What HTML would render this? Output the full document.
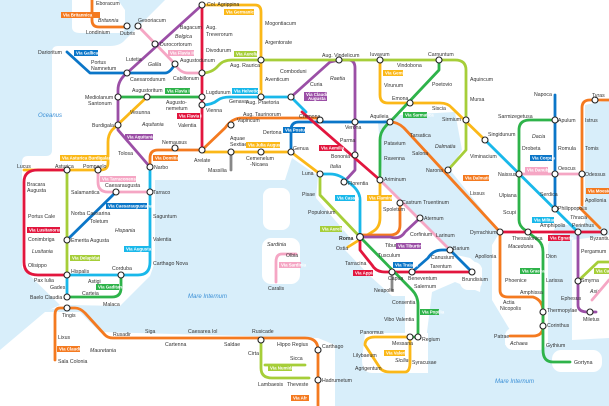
<!DOCTYPE html>
<html><head><meta charset="utf-8"><style>
html,body{margin:0;padding:0;background:#fff}
svg{display:block}
text{font-family:"Liberation Sans",sans-serif;font-size:5.2px;fill:#333}
.r{font-size:4.4px;fill:#fff;font-weight:bold}
.sea{fill:#3a8fd6;font-style:italic;font-size:6px}
.reg{fill:#aaa;font-style:italic;font-size:6px}
.l{fill:none;stroke-width:2.8;stroke-linecap:round;stroke-linejoin:round}
.i{fill:#fff;stroke:#222;stroke-width:1.1}
</style></head><body>
<svg width="609" height="406" viewBox="0 0 609 406" xmlns="http://www.w3.org/2000/svg">
<rect width="609" height="406" fill="#fff"/>
<g fill="#d8eefa">
<path d="M0,0 H72 V27 Q72,33 80,33 H118 Q125,33 125,26 V10 L118,0 H165 L125,40 Q120,46 110,46 H58 Q52,46 52,52 V150 Q52,156 46,156 H28 Q22,156 22,162 V268 L60,305 L45,312 L0,350 Z"/>
<path d="M155,180 H285 L292,158 L318,176 L316,198 L352,240 L345,250 L370,276 L392,296 L405,296 L405,345 L425,348 L432,292 L455,282 L480,292 L482,268 L470,258 L452,254 L383,184 L378,122 L400,115 L455,112 L462,150 L450,170 L500,232 L492,245 L492,300 L510,330 L505,345 L548,345 L548,245 L556,225 L585,225 L585,105 L609,100 V406 H335 V345 L318,338 L100,332 L80,312 L40,312 L70,305 L120,306 L150,276 L155,262 Z"/>
<path d="M572,240 L609,235 V338 L572,340 Z" fill="#fff"/>
<rect x="263" y="188" width="27" height="42" rx="8" fill="#fff"/>
<rect x="262" y="238" width="38" height="46" rx="9" fill="#fff"/>
<path d="M365,333 H428 V373 H372 Q362,373 362,360 Z" fill="#fff"/>
<rect x="505" y="328" width="42" height="22" rx="8" fill="#fff"/>
<rect x="552" y="350" width="50" height="22" rx="9" fill="#fff"/>
<rect x="460" y="262" width="22" height="28" rx="8" fill="#fff"/>
</g>
<text class="sea" x="38" y="117">Oceanus</text>
<text class="sea" x="188" y="298">Mare Internum</text>
<text class="sea" x="495" y="383">Mare Internum</text>
<g class="reg">
<text x="98" y="22">Britannia</text><text x="175" y="38">Belgica</text><text x="148" y="66">Gallia</text>
<text x="142" y="126">Aquitania</text><text x="115" y="232">Hispania</text><text x="32" y="253">Lusitania</text>
<text x="90" y="352">Mauretania</text><text x="330" y="80">Raetia</text><text x="330" y="168">Italia</text>
<text x="435" y="148">Dalmatia</text><text x="532" y="138">Dacia</text><text x="508" y="248">Macedonia</text>
<text x="510" y="345">Achaea</text><text x="590" y="293">Asia</text><text x="570" y="219">Thracia</text>
<text x="395" y="362">Sicilia</text><text x="267" y="246">Sardinia</text>
</g>
<g class="l">
<path stroke="#f47a20" d="M92,0 V20 Q92,27 99,27 H127"/>
<path stroke="#f5a6c4" d="M138,26 L175,64 Q180,73 188,73 H202"/>
<path stroke="#9b4fa6" d="M202,5 L127,73 Q118,80 118,90 V130 L150,167"/>
<path stroke="#9b4fa6" d="M291,97 L330,62 L339,60 H348 Q355,60 355,68 V170 L344,182"/>
<path stroke="#fbb818" d="M202,5 H255 Q261,5 261,12 V97"/>
<path stroke="#a6ce39" d="M202,73 Q212,73 218,66 Q223,60 232,60 H455 Q466,60 466,70 V150 L448,170"/>
<path stroke="#0b76c8" d="M67,52 L90,73 H165 Q170,73 175,64"/>
<path stroke="#2eb34a" d="M118,97 H202"/>
<path stroke="#fbb818" d="M147,97 L112,130 Q108,135 108,142 V163 Q108,170 100,170 H24"/>
<path stroke="#19b8ea" d="M202,105 Q212,105 218,100 Q222,97 230,97 H291 L306,112"/>
<path stroke="#f47a20" d="M150,167 V158 Q150,150 158,150 H202 L225,128 Q232,118 242,118 H318"/>
<path stroke="#fbb818" d="M202,152 H291 L320,174"/>
<path stroke="#888" d="M231,152 V170"/>
<path stroke="#0b76c8" d="M291,152 V130 Q291,122 299,122 H390"/>
<path stroke="#e2163e" d="M302,112 L380,180"/>
<path stroke="#e2163e" d="M202,5 V150"/>
<path stroke="#fbb818" d="M380,60 V95 Q380,103 388,103 H440 Q448,103 452,108 L485,140"/>
<path stroke="#19b8ea" d="M485,140 L578,232"/>
<path stroke="#2eb34a" d="M439,60 V70 L390,122 Q380,130 380,140 V180"/>
<path stroke="#f47a20" d="M390,122 Q398,122 404,128 L500,232 V290 Q500,297 508,297 H533 Q543,300 543,312 V326 Q543,336 533,336 H510"/>
<path stroke="#2eb34a" d="M555,120 H530 Q519,120 519,130 V220 Q519,226 525,230 L538,240 Q543,244 543,252 V350 Q543,362 553,362 H570"/>
<path stroke="#0b76c8" d="M555,95 V209"/>
<path stroke="#f5a6c4" d="M519,174 H582"/>
<path stroke="#f47a20" d="M609,100 H590 Q582,100 582,108 V205"/>
<path stroke="#f47a20" d="M580,208 L600,228"/>
<path stroke="#e2163e" d="M500,232 H605"/>
<path stroke="#9b4fa6" d="M578,232 V305 Q578,312 588,312 H596"/>
<path stroke="#a6ce39" d="M578,281 L598,262 H609"/>
<path stroke="#f5a6c4" d="M592,300 L609,280"/>
<path stroke="#e2163e" d="M67,170 H38 Q24,170 24,182 V262 Q24,275 38,275 H67"/>
<path stroke="#a6ce39" d="M67,170 V275"/>
<path stroke="#0b76c8" d="M116,192 L67,240"/>
<path stroke="#f5a6c4" d="M98,170 V182 Q98,192 108,192 H150"/>
<path stroke="#19b8ea" d="M150,167 V262 Q150,275 138,275 H67 V297"/>
<path stroke="#2eb34a" d="M67,297 H112 Q121,297 121,288 V275"/>
<path stroke="#f47a20" d="M67,308 H60 Q55,308 55,315 V360"/>
<path stroke="#f47a20" d="M67,308 H75 Q80,308 85,313 L105,335 Q108,338 113,338 H305 Q318,338 318,350 V406"/>
<path stroke="#a6ce39" d="M261,340 V368 Q261,378 272,378 H309 M265,365 H305"/>
<path stroke="#a6ce39" d="M320,174 V195 L360,237"/>
<path stroke="#19b8ea" d="M320,174 H330 Q340,174 348,182 Q360,190 360,200 V237"/>
<path stroke="#fbb818" d="M380,180 V218 Q380,228 372,232 L348,247"/>
<path stroke="#f5a6c4" d="M380,180 L450,250"/>
<path stroke="#f47a20" d="M400,203 V225 Q400,235 390,235 H360"/>
<path stroke="#9b4fa6" d="M360,237 H390 Q400,240 405,232 L420,218"/>
<path stroke="#e2163e" d="M360,237 V250 L372,265 Q376,272 385,272 H472"/>
<path stroke="#0b76c8" d="M412,272 L428,258 Q433,250 442,250 H450 L472,272"/>
<path stroke="#2eb34a" d="M360,237 L412,290 Q418,296 418,305 V337 H410"/>
<path stroke="#888" d="M392,272 V290"/>
<path stroke="#fbb818" d="M410,337 H375 Q365,337 365,345 L380,368 Q383,372 390,372 H405 Q410,372 410,362 V337"/>
<path stroke="#f5a6c4" d="M296,254 H282 Q276,254 276,262 V282"/>
</g>
<g class="i">
<circle cx="127" cy="26" r="3"/><circle cx="138" cy="26" r="3"/><circle cx="202" cy="5" r="3"/>
<circle cx="155" cy="44" r="3"/><circle cx="175" cy="64" r="3"/><circle cx="127" cy="73" r="3"/>
<circle cx="202" cy="73" r="3"/><circle cx="261" cy="60" r="3"/><circle cx="118" cy="97" r="3"/>
<circle cx="147" cy="97" r="3"/><circle cx="202" cy="97" r="3"/><circle cx="202" cy="105" r="3"/>
<circle cx="261" cy="97" r="3"/><circle cx="291" cy="97" r="3"/><circle cx="118" cy="125" r="3"/>
<circle cx="231" cy="125" r="3"/><circle cx="175" cy="148" r="3"/><circle cx="202" cy="150" r="3"/>
<circle cx="231" cy="152" r="3"/><circle cx="261" cy="152" r="3"/><circle cx="291" cy="152" r="3"/>
<circle cx="150" cy="167" r="3"/><circle cx="67" cy="170" r="3"/><circle cx="98" cy="170" r="3"/>
<circle cx="116" cy="192" r="3"/><circle cx="150" cy="192" r="3"/><circle cx="67" cy="240" r="3"/>
<circle cx="67" cy="275" r="3"/><circle cx="121" cy="275" r="3"/><circle cx="67" cy="297" r="3"/>
<circle cx="67" cy="308" r="3"/><circle cx="261" cy="340" r="3"/><circle cx="318" cy="350" r="3"/>
<circle cx="318" cy="380" r="3"/><circle cx="339" cy="60" r="3"/><circle cx="380" cy="60" r="3"/>
<circle cx="439" cy="60" r="3"/><circle cx="410" cy="103" r="3"/><circle cx="466" cy="120" r="3"/>
<circle cx="320" cy="120" r="3"/><circle cx="355" cy="122" r="3"/><circle cx="390" cy="122" r="3"/>
<circle cx="485" cy="140" r="3"/><circle cx="355" cy="155" r="3"/><circle cx="320" cy="174" r="3"/>
<circle cx="344" cy="182" r="3"/><circle cx="380" cy="180" r="3"/><circle cx="448" cy="170" r="3"/>
<circle cx="400" cy="203" r="3"/><circle cx="420" cy="218" r="3"/><circle cx="450" cy="250" r="3"/>
<circle cx="360" cy="237" r="3.4"/><circle cx="392" cy="272" r="3"/><circle cx="412" cy="272" r="3"/>
<circle cx="472" cy="272" r="3"/><circle cx="410" cy="337" r="3"/><circle cx="418" cy="337" r="3"/>
<circle cx="555" cy="120" r="3"/><circle cx="519" cy="174" r="3"/><circle cx="555" cy="174" r="3"/>
<circle cx="582" cy="174" r="3"/><circle cx="555" cy="209" r="3"/><circle cx="500" cy="232" r="3"/>
<circle cx="528" cy="232" r="3"/><circle cx="578" cy="232" r="3"/><circle cx="604" cy="232" r="3"/>
<circle cx="578" cy="281" r="3"/><circle cx="590" cy="312" r="3"/><circle cx="543" cy="312" r="3"/>
<circle cx="543" cy="326" r="3"/><circle cx="595" cy="100" r="3"/>
</g>
<g>
<text x="96" y="5">Eboracum</text><text x="86" y="34">Londinium</text><text x="120" y="35">Dubris</text>
<text x="138" y="22">Gesoriacum</text><text x="180" y="29">Bagacum</text><text x="206" y="29">Aug.</text><text x="206" y="36">Treverorum</text>
<text x="207" y="6">Col. Agrippina</text><text x="160" y="46">Durocortorum</text><text x="206" y="52">Divodurum</text>
<text x="180" y="62">Augustodunum</text><text x="173" y="80">Cabillonum</text><text x="126" y="61">Lutetia</text>
<text x="130" y="81">Caesarodunum</text><text x="38" y="54">Darioritum</text><text x="91" y="64">Portus</text><text x="91" y="70">Namnetum</text>
<text x="85" y="99">Mediolanum</text><text x="88" y="105">Santonum</text><text x="132" y="92">Augustoritum</text>
<text x="166" y="104">Augusto-</text><text x="166" y="110">nemetum</text><text x="206" y="94">Lugdunum</text><text x="206" y="112">Vienna</text>
<text x="130" y="114">Vesunna</text><text x="178" y="127">Valentia</text><text x="92" y="127">Burdigala</text>
<text x="118" y="155">Tolosa</text><text x="162" y="144">Nemausus</text><text x="194" y="162">Arelate</text><text x="154" y="169">Narbo</text>
<text x="230" y="140">Aquae</text><text x="230" y="146">Sextiae</text><text x="237" y="122">Vapincum</text><text x="243" y="116">Aug. Taurinorum</text>
<text x="208" y="172">Massilia</text><text x="246" y="160">Cemenelum</text><text x="250" y="166">-Nicaea</text>
<text x="263" y="134">Dertona</text><text x="293" y="150">Genua</text><text x="229" y="103">Genava</text><text x="246" y="104">Aug. Praetoria</text>
<text x="265" y="25">Mogontiacum</text><text x="265" y="44">Argentorate</text><text x="230" y="67">Aug. Raurica</text>
<text x="265" y="81">Aventicum</text><text x="280" y="73">Comboduni</text><text x="17" y="168">Lucus</text><text x="55" y="168">Asturica</text>
<text x="83" y="168">Pompaelo</text><text x="105" y="187">Caesaraugusta</text><text x="153" y="194">Tarraco</text>
<text x="27" y="186">Bracara</text><text x="27" y="192">Augusta</text><text x="71" y="194">Salamantica</text>
<text x="28" y="218">Portus Cale</text><text x="71" y="215">Norba Caesarina</text><text x="90" y="223">Toletum</text>
<text x="28" y="241">Conimbriga</text><text x="71" y="242">Emerita Augusta</text><text x="28" y="267">Olisippo</text>
<text x="34" y="282">Pax Iulia</text><text x="71" y="273">Hispalis</text><text x="50" y="289">Gades</text><text x="88" y="283">Astigi</text>
<text x="112" y="270">Corduba</text><text x="153" y="218">Saguntum</text><text x="153" y="241">Valentia</text><text x="153" y="265">Carthago Nova</text>
<text x="30" y="299">Baelo Claudia</text><text x="82" y="295">Carteia</text><text x="103" y="306">Malaca</text><text x="62" y="317">Tingis</text>
<text x="58" y="339">Lixus</text><text x="58" y="363">Sala Colonia</text><text x="113" y="336">Rusadir</text><text x="145" y="333">Siga</text>
<text x="165" y="346">Cartenna</text><text x="188" y="333">Caesarea Iol</text><text x="224" y="346">Saldae</text><text x="252" y="333">Rusicade</text>
<text x="277" y="346">Hippo Regius</text><text x="248" y="355">Cirta</text><text x="290" y="360">Sicca</text><text x="258" y="386">Lambaesis</text>
<text x="287" y="386">Theveste</text><text x="322" y="348">Carthago</text><text x="322" y="382">Hadrumetum</text>
<text x="286" y="257">Olbia</text><text x="268" y="290">Caralis</text>
<text x="322" y="57">Aug. Vindelicum</text><text x="370" y="56">Iuvavum</text><text x="397" y="67">Vindobona</text><text x="428" y="56">Carnuntum</text>
<text x="310" y="86">Curia</text><text x="384" y="87">Virunum</text><text x="432" y="86">Poetovio</text><text x="470" y="81">Aquincum</text>
<text x="470" y="101">Mursa</text><text x="392" y="100">Emona</text><text x="432" y="110">Siscia</text><text x="442" y="121">Sirmium</text>
<text x="299" y="118">Cremona</text><text x="345" y="129">Verona</text><text x="370" y="118">Aquileia</text><text x="488" y="136">Singidunum</text>
<text x="410" y="137">Tarsatica</text><text x="412" y="155">Salona</text><text x="426" y="172">Narona</text><text x="470" y="158">Viminacium</text>
<text x="384" y="145">Patavium</text><text x="384" y="160">Ravenna</text><text x="340" y="142">Parma</text><text x="331" y="158">Bononia</text>
<text x="302" y="175">Luna</text><text x="348" y="185">Florentia</text><text x="384" y="181">Ariminum</text><text x="302" y="196">Pisae</text>
<text x="402" y="204">Castrum Truentinum</text><text x="308" y="214">Populonium</text><text x="383" y="211">Spoletum</text>
<text x="424" y="220">Aternum</text><text x="410" y="236">Corfinium</text><text x="436" y="237">Larinum</text><text x="453" y="250">Barium</text>
<text x="339" y="240" style="font-weight:bold">Roma</text><text x="336" y="250">Ostia</text><text x="385" y="247">Tibur</text>
<text x="378" y="257">Tusculum</text><text x="345" y="265">Tarracina</text><text x="388" y="280">Capua</text>
<text x="408" y="280">Beneventum</text><text x="430" y="268">Tarentum</text><text x="462" y="281">Brundisium</text>
<text x="431" y="259">Canusium</text><text x="374" y="292">Neapolis</text><text x="414" y="288">Salernum</text>
<text x="392" y="304">Consentia</text><text x="384" y="321">Vibo Valentia</text><text x="422" y="341">Regium</text>
<text x="360" y="334">Panormus</text><text x="392" y="345">Messana</text><text x="353" y="357">Lilybaeum</text>
<text x="355" y="370">Agrigentum</text><text x="412" y="364">Syracusae</text>
<text x="534" y="96">Napoca</text><text x="498" y="118">Sarmizegetusa</text><text x="558" y="122">Apulum</text>
<text x="522" y="150">Drobeta</text><text x="558" y="150">Romula</text><text x="498" y="176">Naissus</text><text x="558" y="170">Oescus</text>
<text x="585" y="176">Odessus</text><text x="585" y="122">Istrus</text><text x="585" y="150">Tomis</text><text x="592" y="97">Tyras</text>
<text x="499" y="197">Ulpiana</text><text x="540" y="196">Serdica</text><text x="585" y="202">Apollonia</text>
<text x="470" y="195">Lissus</text><text x="503" y="214">Scupi</text><text x="558" y="210">Philippopolis</text>
<text x="470" y="234">Dyrrachium</text><text x="512" y="240">Thessalonica</text><text x="540" y="227">Amphipolis</text>
<text x="572" y="227">Perinthus</text><text x="590" y="240">Byzantium</text><text x="475" y="258">Apollonia</text>
<text x="546" y="258">Dion</text><text x="546" y="282">Larissa</text><text x="505" y="282">Phoenice</text>
<text x="520" y="294">Amphissa</text><text x="503" y="304">Actia</text><text x="500" y="310">Nicopolis</text>
<text x="547" y="312">Thermopylae</text><text x="547" y="327">Corinthus</text><text x="494" y="338">Patrae</text>
<text x="546" y="347">Gythium</text><text x="574" y="364">Gortyna</text><text x="581" y="253">Pergamum</text>
<text x="581" y="282">Smyrna</text><text x="561" y="300">Ephesus</text><text x="583" y="321">Miletus</text>
</g>
<g>
<rect x="61" y="12" width="39" height="6" fill="#f47a20"/><text class="r" x="63" y="16.5">Via Britannica</text>
<rect x="168" y="50" width="26" height="6" fill="#f5a6c4"/><text class="r" x="170" y="54.5">Via Flavia II</text>
<rect x="74" y="50" width="24" height="6" fill="#0b76c8"/><text class="r" x="76" y="54.5">Via Gallica</text>
<rect x="224" y="9" width="30" height="6" fill="#fbb818"/><text class="r" x="226" y="13.5">Via Germanica</text>
<rect x="234" y="51" width="23" height="6" fill="#a6ce39"/><text class="r" x="236" y="55.5">Via Aurelia</text>
<rect x="165" y="88" width="25" height="6" fill="#2eb34a"/><text class="r" x="167" y="92.5">Via Flavia II</text>
<rect x="232" y="88" width="26" height="6" fill="#19b8ea"/><text class="r" x="234" y="92.5">Via Helvetica</text>
<rect x="177" y="113" width="23" height="6" fill="#e2163e"/><text class="r" x="179" y="117.5">Via Flavia I</text>
<rect x="125" y="134" width="28" height="6" fill="#9b4fa6"/><text class="r" x="127" y="138.5">Via Aquitania</text>
<rect x="246" y="142" width="34" height="6" fill="#fbb818"/><text class="r" x="248" y="146.5">Via Julia Augusta</text>
<rect x="153" y="155" width="25" height="6" fill="#f47a20"/><text class="r" x="155" y="159.5">Via Domitia</text>
<rect x="60" y="155" width="47" height="6" fill="#fbb818"/><text class="r" x="62" y="159.5">Via Asturica Burdigalam</text>
<rect x="100" y="176" width="36" height="6" fill="#f5a6c4"/><text class="r" x="102" y="180.5">Via Tarraconensis</text>
<rect x="106" y="203" width="41" height="6" fill="#0b76c8"/><text class="r" x="108" y="207.5">Via Caesaraugustana</text>
<rect x="27" y="227" width="33" height="6" fill="#e2163e"/><text class="r" x="29" y="231.5">Via Lusitanorum</text>
<rect x="70" y="255" width="30" height="6" fill="#a6ce39"/><text class="r" x="72" y="259.5">Via Delapidata</text>
<rect x="124" y="246" width="25" height="6" fill="#19b8ea"/><text class="r" x="126" y="250.5">Via Augusta</text>
<rect x="96" y="284" width="23" height="6" fill="#2eb34a"/><text class="r" x="98" y="288.5">Via Gaditana</text>
<rect x="57" y="346" width="23" height="6" fill="#f47a20"/><text class="r" x="59" y="350.5">Via Claudia</text>
<rect x="268" y="365" width="24" height="6" fill="#a6ce39"/><text class="r" x="270" y="369.5">Via Numida</text>
<rect x="279" y="262" width="22" height="6" fill="#f5a6c4"/><text class="r" x="281" y="266.5">Via Sardinia</text>
<rect x="304" y="92" width="23" height="9" fill="#9b4fa6"/><text class="r" x="306" y="96">Via Claudia</text><text class="r" x="308" y="100">Augusta</text>
<rect x="283" y="127" width="22" height="6" fill="#0b76c8"/><text class="r" x="285" y="131.5">Via Postumia</text>
<rect x="319" y="145" width="23" height="6" fill="#e2163e"/><text class="r" x="321" y="149.5">Via Aemilia</text>
<rect x="383" y="70" width="20" height="6" fill="#fbb818"/><text class="r" x="385" y="74.5">Via Gemina</text>
<rect x="403" y="112" width="24" height="6" fill="#2eb34a"/><text class="r" x="405" y="116.5">Via Sarmatica</text>
<rect x="463" y="175" width="26" height="6" fill="#f47a20"/><text class="r" x="465" y="179.5">Via Dalmatica</text>
<rect x="335" y="195" width="20" height="6" fill="#19b8ea"/><text class="r" x="337" y="199.5">Via Cassia</text>
<rect x="367" y="195" width="25" height="6" fill="#fbb818"/><text class="r" x="369" y="199.5">Via Flaminia</text>
<rect x="320" y="226" width="22" height="6" fill="#a6ce39"/><text class="r" x="322" y="230.5">Via Aurelia</text>
<rect x="396" y="243" width="25" height="6" fill="#9b4fa6"/><text class="r" x="398" y="247.5">Via Tiburtina</text>
<rect x="393" y="262" width="20" height="6" fill="#0b76c8"/><text class="r" x="395" y="266.5">Via Traiana</text>
<rect x="353" y="270" width="20" height="6" fill="#e2163e"/><text class="r" x="355" y="274.5">Via Appia</text>
<rect x="420" y="309" width="19" height="6" fill="#2eb34a"/><text class="r" x="422" y="313.5">Via Popilia</text>
<rect x="384" y="350" width="21" height="6" fill="#fbb818"/><text class="r" x="386" y="354.5">Via Valeria</text>
<rect x="530" y="155" width="22" height="6" fill="#0b76c8"/><text class="r" x="532" y="159.5">Via Corpus</text>
<rect x="525" y="167" width="23" height="6" fill="#f5a6c4"/><text class="r" x="527" y="171.5">Via Danubia</text>
<rect x="586" y="188" width="23" height="6" fill="#f47a20"/><text class="r" x="588" y="192.5">Via Moesica</text>
<rect x="532" y="217" width="22" height="6" fill="#19b8ea"/><text class="r" x="534" y="221.5">Via Militaris</text>
<rect x="548" y="235" width="22" height="6" fill="#e2163e"/><text class="r" x="550" y="239.5">Via Egnatia</text>
<rect x="520" y="268" width="20" height="6" fill="#2eb34a"/><text class="r" x="522" y="272.5">Via Graeca</text>
<rect x="594" y="268" width="15" height="6" fill="#a6ce39"/><text class="r" x="596" y="272.5">Via Ca</text>
<rect x="291" y="395" width="18" height="6" fill="#f47a20"/><text class="r" x="293" y="399.5">Via Afr</text>
</g>
</svg>
</body></html>
